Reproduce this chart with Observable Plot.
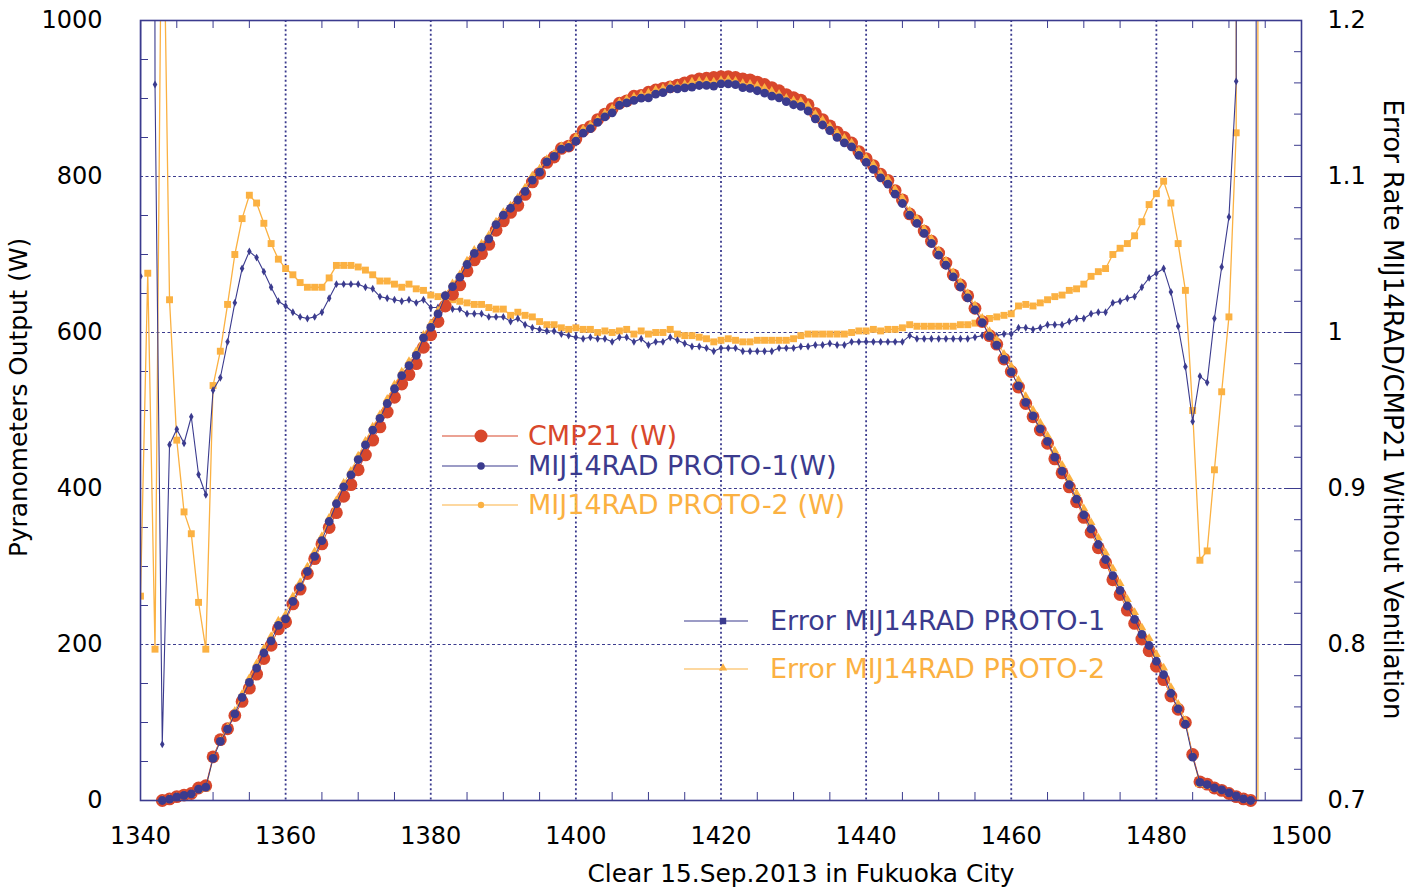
<!DOCTYPE html>
<html>
<head>
<meta charset="utf-8">
<script src="https://cdn.jsdelivr.net/npm/d3@7"></script>
<script src="https://cdn.jsdelivr.net/npm/@observablehq/plot@0.6"></script>
<style>
  html, body { margin: 0; padding: 0; background: #fff; }
  #chart { width: 1420px; height: 890px; }
</style>
</head>
<body>
<div id="chart"></div>
<script>
// ---------------- DATA ----------------
// CMP21 reference pyranometer output (W), one value per minute starting at 1343
const cmp21Start = 1343;
const cmp21 = [
  0, 2, 5, 7, 9, 16, 19, 56, 78, 92,
  109, 127, 144, 162, 182, 199, 220, 229, 252, 271,
  291, 310, 329, 350, 369, 390, 405, 424, 443, 462,
  479, 498, 517, 534, 546, 560, 581, 597, 614, 634,
  649, 661, 679, 693, 701, 713, 731, 743, 754, 763,
  777, 793, 804, 818, 825, 836, 839, 848, 859, 864,
  873, 880, 887, 894, 897, 903, 904, 908, 911, 913,
  915, 917, 920, 923, 925, 926, 927, 928, 928, 927,
  925, 924, 921, 918, 914, 910, 905, 901, 898, 892,
  881, 873, 865, 857, 850, 843, 832, 823, 814, 803,
  795, 782, 770, 752, 743, 730, 717, 702, 689, 674,
  661, 647, 631, 614, 596, 585, 566, 550, 530, 509,
  492, 475, 458, 438, 420, 402, 383, 363, 344, 324,
  305, 283, 264, 244, 227, 207, 192, 172, 155, 134,
  117, 100, 59, 24, 21, 16, 13, 9, 5, 2,
  0
];

// Error rate MIJ14RAD / CMP21 (right axis), one value per minute starting at 1340
// (values far outside 0.7..1.2 are the off-scale spikes where CMP21 is near zero)
const errStart = 1340;
const errProto1 = [
  1.036, 5, 1.159, 0.736, 0.928, 0.938, 0.929, 0.946, 0.909, 0.896,
  0.963, 0.971, 0.994, 1.019, 1.041, 1.052, 1.048, 1.039, 1.029, 1.020,
  1.017, 1.013, 1.010, 1.009, 1.010, 1.013, 1.022, 1.031, 1.031, 1.031,
  1.031, 1.029, 1.028, 1.023, 1.022, 1.021, 1.020, 1.021, 1.019, 1.021,
  1.016, 1.016, 1.021, 1.015, 1.015, 1.012, 1.012, 1.012, 1.010, 1.010,
  1.010, 1.007, 1.009, 1.005, 1.003, 1.002, 1.001, 1.001, 0.999, 0.998,
  0.997, 0.996, 0.997, 0.996, 0.996, 0.994, 0.997, 0.997, 0.994, 0.996,
  0.992, 0.994, 0.994, 0.997, 0.995, 0.993, 0.991, 0.991, 0.990, 0.988,
  0.990, 0.990, 0.990, 0.988, 0.988, 0.988, 0.988, 0.988, 0.990, 0.990,
  0.990, 0.991, 0.991, 0.992, 0.992, 0.993, 0.992, 0.992, 0.994, 0.994,
  0.994, 0.994, 0.994, 0.994, 0.994, 0.994, 0.998, 0.996, 0.996, 0.996,
  0.996, 0.996, 0.996, 0.996, 0.996, 0.997, 0.998, 0.999, 0.998, 0.999,
  0.999, 1.003, 1.003, 1.002, 1.003, 1.005, 1.005, 1.005, 1.007, 1.009,
  1.009, 1.012, 1.013, 1.013, 1.019, 1.020, 1.022, 1.023, 1.029, 1.035,
  1.038, 1.041, 1.026, 1.004, 0.978, 0.943, 0.972, 0.968, 1.009, 1.042,
  1.074, 1.161, 5, 20, -5
];
const errProto2 = [
  0.831, 1.038, 0.797, 1.334, 1.021, 0.931, 0.885, 0.871, 0.827, 0.797,
  0.966, 0.988, 1.018, 1.050, 1.073, 1.088, 1.083, 1.070, 1.057, 1.047,
  1.041, 1.037, 1.032, 1.029, 1.029, 1.029, 1.035, 1.043, 1.043, 1.043,
  1.042, 1.040, 1.037, 1.033, 1.033, 1.031, 1.029, 1.031, 1.028, 1.027,
  1.024, 1.023, 1.022, 1.021, 1.020, 1.019, 1.018, 1.018, 1.016, 1.015,
  1.015, 1.011, 1.013, 1.011, 1.010, 1.007, 1.005, 1.005, 1.003, 1.002,
  1.003, 1.002, 1.002, 1.000, 1.001, 1.000, 1.001, 1.002, 0.999, 1.001,
  0.999, 1.000, 1.000, 1.002, 0.999, 0.998, 0.998, 0.997, 0.996, 0.994,
  0.995, 0.996, 0.995, 0.994, 0.994, 0.995, 0.995, 0.995, 0.995, 0.995,
  0.996, 0.998, 0.999, 0.999, 0.999, 0.999, 0.999, 0.999, 1.000, 1.001,
  1.001, 1.002, 1.001, 1.002, 1.002, 1.003, 1.005, 1.004, 1.004, 1.004,
  1.004, 1.004, 1.004, 1.005, 1.005, 1.006, 1.007, 1.009, 1.010, 1.011,
  1.012, 1.017, 1.018, 1.017, 1.019, 1.021, 1.023, 1.024, 1.027, 1.028,
  1.031, 1.036, 1.039, 1.041, 1.050, 1.054, 1.057, 1.062, 1.071, 1.082,
  1.089, 1.097, 1.083, 1.057, 1.027, 0.950, 0.854, 0.860, 0.912, 0.962,
  1.010, 1.128, 10, 200, -1
];

// Axis ticks and labels
const xTicks = [1340, 1360, 1380, 1400, 1420, 1440, 1460, 1480, 1500];
const leftTicks = [0, 200, 400, 600, 800, 1000];
const rightTicks = [0.7, 0.8, 0.9, 1, 1.1, 1.2];
const rightTickLabels = ["0.7", "0.8", "0.9", "1", "1.1", "1.2"];
const xLabel = "Clear 15.Sep.2013 in Fukuoka City";
const yLeftLabel = "Pyranometers Output (W)";
const yRightLabel = "Error Rate MIJ14RAD/CMP21 Without Ventilation";
const seriesNames = ["CMP21 (W)", "MIJ14RAD PROTO-1(W)", "MIJ14RAD PROTO-2 (W)",
                     "Error MIJ14RAD PROTO-1", "Error MIJ14RAD PROTO-2"];

// ---------------- STYLE ----------------
const RED = "#d8472b", NAVY = "#3b3b8e", ORANGE = "#fbb142";
const FONT = "DejaVu Sans";
const W = 1420, H = 890, ML = 140, MR = 119, MT = 20, MB = 90;
const PW = W - ML - MR, PH = H - MT - MB;

// ---------------- DERIVED TABLES ----------------
const rightToLeft = e => (e - 0.7) * 2000;  // right axis (0.7..1.2) onto left axis (0..1000)
const onScale = e => e >= 0.7 && e <= 1.2;
const cmpData = cmp21.map((v, i) => ({t: cmp21Start + i, v}));
const err1Data = errProto1.map((e, i) => ({t: errStart + i, y: rightToLeft(e)}));
const err2Data = errProto2.map((e, i) => ({t: errStart + i, y: rightToLeft(e)}));
// MIJ14RAD output = CMP21 x error rate (off-scale spikes only occur where CMP21 ~ 0)
const protoW = errs => cmpData.map(d => {
  const e = errs[d.t - errStart];
  return {t: d.t, v: onScale(e) ? d.v * e : d.v};
});
const p1Data = protoW(errProto1);
const p2Data = protoW(errProto2);

const gridX = d3.range(1360, 1481, 20);
const gridY = [200, 400, 600, 800];
const minorX = d3.range(1345, 1500, 5).filter(v => v % 20 !== 0);
const minorYL = d3.range(50, 1000, 50).filter(v => v % 200 !== 0);
const minorYR = d3.range(0.72, 1.19, 0.02).map(rightToLeft)
  .filter(v => Math.abs(v % 200) > 1 && Math.abs(v % 200 - 200) > 1);
const majorYR = rightTicks.map(rightToLeft);

const chart = Plot.plot({
  width: W, height: H,
  marginLeft: ML, marginRight: MR, marginTop: MT, marginBottom: MB,
  style: {fontFamily: FONT, fontSize: "24px", color: "#000", background: "#fff"},
  x: {domain: [1340, 1500]},
  y: {domain: [0, 1000]},
  marks: [
    // grid
    Plot.ruleX(gridX, {stroke: NAVY, strokeWidth: 1.8, strokeDasharray: "2,2.6"}),
    Plot.ruleY(gridY, {stroke: NAVY, strokeWidth: 1.1, strokeDasharray: "3,2.5"}),
    // minor ticks (inside the frame)
    Plot.ruleX(minorX, {stroke: NAVY, strokeWidth: 1, insetTop: PH - 8}),
    Plot.ruleX(minorX, {stroke: NAVY, strokeWidth: 1, insetBottom: PH - 8}),
    Plot.ruleY(minorYL, {stroke: NAVY, strokeWidth: 1, insetRight: PW - 8}),
    Plot.ruleY(minorYR, {stroke: NAVY, strokeWidth: 1, insetLeft: PW - 7}),
    Plot.ruleY(majorYR, {stroke: NAVY, strokeWidth: 1, insetLeft: PW - 15}),
    // error rate lines (right axis)
    Plot.line(err2Data, {x: "t", y: "y", stroke: ORANGE, strokeWidth: 1.3, clip: true}),
    Plot.dot(err2Data, {x: "t", y: "y", symbol: "square", r: 3.9, fill: ORANGE, clip: true}),
    Plot.line(err1Data, {x: "t", y: "y", stroke: NAVY, strokeWidth: 1.1, clip: true}),
    Plot.dot(err1Data, {x: "t", y: "y", symbol: "diamond", r: 2.4, fill: NAVY, clip: true}),
    // pyranometer outputs (left axis)
    Plot.line(cmpData, {x: "t", y: "v", stroke: RED, strokeWidth: 1}),
    Plot.dot(cmpData, {x: "t", y: "v", r: 6.4, fill: RED}),
    Plot.line(p2Data, {x: "t", y: "v", stroke: ORANGE, strokeWidth: 1}),
    Plot.dot(p2Data, {x: "t", y: "v", symbol: "triangle", r: 3.3, fill: ORANGE}),
    Plot.line(p1Data, {x: "t", y: "v", stroke: NAVY, strokeWidth: 1}),
    Plot.dot(p1Data, {x: "t", y: "v", r: 4.4, fill: NAVY}),
    // axes
    Plot.axisX({ticks: xTicks, tickSize: 0, tickPadding: 26, tickFormat: d => String(d), fontSize: 24, label: null}),
    Plot.axisY({anchor: "left", ticks: leftTicks, tickSize: 0, tickPadding: 38, tickFormat: d => String(d), fontSize: 24, label: null}),
    Plot.axisY({anchor: "right", ticks: majorYR, tickSize: 0, tickPadding: 26,
                tickFormat: (d, i) => rightTickLabels[i], fontSize: 24, label: null}),
    // axis titles
    Plot.text([yLeftLabel], {frameAnchor: "left", textAnchor: "middle", lineAnchor: "middle",
      dx: -121, dy: -13, rotate: -90, fontSize: 24.8, fill: "#000", text: d => d}),
    Plot.text([yRightLabel], {frameAnchor: "right", textAnchor: "middle", lineAnchor: "middle",
      dx: 91, dy: -1, rotate: 90, fontSize: 26, fill: "#000", text: d => d}),
    Plot.text([xLabel], {frameAnchor: "bottom", textAnchor: "middle", lineAnchor: "middle",
      dx: 80, dy: 74, fontSize: 24.8, fill: "#000", text: d => d}),
    Plot.frame({stroke: NAVY, strokeWidth: 1.6})
  ]
});

document.getElementById("chart").appendChild(chart);

// ---------------- LEGEND (inside plot area) ----------------
const svg = d3.select(chart);
const lg = svg.append("g").attr("font-family", FONT).attr("font-size", 27).attr("text-anchor", "start");
const legendItems = [
  {name: seriesNames[0], color: RED, x0: 442, x1: 518, mx: 481, y: 436, tx: 528, marker: "circle", r: 6.5},
  {name: seriesNames[1], color: NAVY, x0: 442, x1: 518, mx: 481, y: 466, tx: 528, marker: "circle", r: 3.8},
  {name: seriesNames[2], color: ORANGE, x0: 442, x1: 518, mx: 481, y: 505, tx: 528, marker: "circle", r: 3.2},
  {name: seriesNames[3], color: NAVY, x0: 684, x1: 748, mx: 723, y: 621, tx: 770, marker: "square", r: 3.2},
  {name: seriesNames[4], color: ORANGE, x0: 684, x1: 748, mx: 723, y: 669, tx: 770, marker: "triangle", r: 3.2}
];
legendItems.forEach(it => {
  const g = lg.append("g");
  g.append("line").attr("x1", it.x0).attr("x2", it.x1).attr("y1", it.y).attr("y2", it.y)
    .attr("stroke", it.color).attr("stroke-width", 1.2);
  if (it.marker === "circle") {
    g.append("circle").attr("cx", it.mx).attr("cy", it.y).attr("r", it.r).attr("fill", it.color);
  } else if (it.marker === "square") {
    g.append("rect").attr("x", it.mx - it.r).attr("y", it.y - it.r).attr("width", 2 * it.r).attr("height", 2 * it.r).attr("fill", it.color);
  } else {
    g.append("path").attr("d", d3.symbol(d3.symbolTriangle, 30)()).attr("transform", `translate(${it.mx},${it.y - 1})`).attr("fill", it.color);
  }
  g.append("text").attr("x", it.tx).attr("y", it.y).attr("dy", "0.35em").attr("text-anchor", "start")
    .attr("fill", it.color).text(it.name);
});
</script>
</body>
</html>
